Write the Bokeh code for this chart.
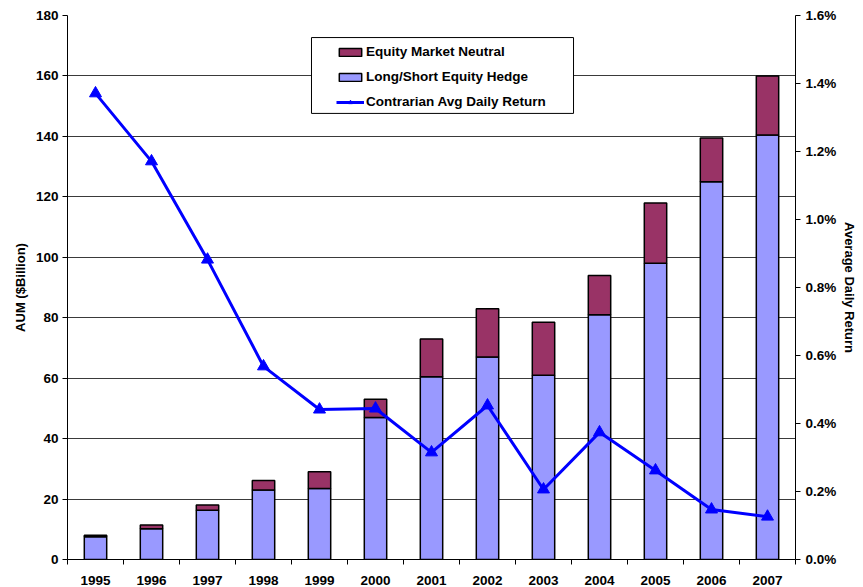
from bokeh.plotting import figure
from bokeh.models import (Range1d, LinearAxis, FixedTicker, NumeralTickFormatter,
                          Legend, LegendItem, BoxAnnotation)
from bokeh.embed import file_html
from bokeh.resources import INLINE

years = ["1995", "1996", "1997", "1998", "1999", "2000", "2001",
         "2002", "2003", "2004", "2005", "2006", "2007"]
long_short = [7.5, 10.2, 16.3, 23.0, 23.5, 47.0, 60.5, 67.0, 61.0, 81.0, 98.0, 125.0, 140.5]
market_neutral = [0.5, 1.2, 1.7, 3.1, 5.5, 6.0, 12.5, 16.0, 17.5, 13.0, 20.0, 14.5, 19.5]
avg_daily_return = [0.01371, 0.01171, 0.00882, 0.00568, 0.00441, 0.00444, 0.00315,
                    0.00453, 0.00206, 0.00374, 0.00262, 0.00147, 0.00126]
aum_ticks = [0, 20, 40, 60, 80, 100, 120, 140, 160, 180]
ret_ticks = [0.0, 0.002, 0.004, 0.006, 0.008, 0.010, 0.012, 0.014, 0.016]

FONT = "Liberation Sans"
TICK_SIZE = "13.5px"
LABEL_SIZE = "13px"
xs = list(range(len(years)))
totals = [a + b for a, b in zip(long_short, market_neutral)]

p = figure(width=863, height=587, output_backend="svg", toolbar_location=None,
           x_range=Range1d(-0.5, len(years) - 0.5), y_range=Range1d(0, 180),
           min_border_left=67, min_border_right=68, min_border_top=15, min_border_bottom=28)
p.extra_y_ranges = {"ret": Range1d(0, 0.016)}
p.outline_line_color = None
p.background_fill_color = "white"

# grid
p.xgrid.grid_line_color = None
p.ygrid.grid_line_color = "#3a3a3a"
p.ygrid.grid_line_width = 1
p.ygrid.ticker = FixedTicker(ticks=aum_ticks)

ls_r = p.vbar(x=xs, top=long_short, bottom=0, width=0.4, fill_color="#9999FF",
              line_color="black", line_width=1.5)
emn_r = p.vbar(x=xs, top=totals, bottom=long_short, width=0.4, fill_color="#993366",
               line_color="black", line_width=1.5)
ln = p.line(x=xs, y=avg_daily_return, y_range_name="ret", line_color="#0000FF", line_width=3)
mk = p.scatter(x=xs, y=avg_daily_return, y_range_name="ret", marker="triangle", size=12,
               fill_color="#0000FF", line_color="#0000FF")

# x axis
xa = p.xaxis[0]
xa.ticker = FixedTicker(ticks=xs, minor_ticks=[i - 0.5 for i in range(len(years) + 1)])
xa.major_label_overrides = {i: y for i, y in zip(xs, years)}
xa.major_tick_out = 0
xa.major_tick_in = 0
xa.minor_tick_out = 5
xa.minor_tick_in = 0
xa.minor_tick_line_color = "black"
xa.axis_line_color = "black"
xa.major_label_text_font = FONT
xa.major_label_text_font_style = "bold"
xa.major_label_text_font_size = TICK_SIZE
xa.major_label_text_color = "black"
xa.major_label_standoff = 11

# left axis
ya = p.yaxis[0]
ya.ticker = FixedTicker(ticks=aum_ticks)
ya.axis_label = "AUM ($Billion)"
ya.axis_label_text_font = FONT
ya.axis_label_text_font_style = "bold"
ya.axis_label_text_font_size = LABEL_SIZE
ya.axis_label_text_color = "black"
ya.axis_label_standoff = 5
ya.major_label_text_font = FONT
ya.major_label_text_font_style = "bold"
ya.major_label_text_font_size = TICK_SIZE
ya.major_label_text_color = "black"
ya.major_label_standoff = 4
ya.major_tick_out = 5
ya.major_tick_in = 0
ya.minor_tick_line_color = None
ya.axis_line_color = "black"
ya.major_tick_line_color = "black"

# right axis
ra = LinearAxis(y_range_name="ret", ticker=FixedTicker(ticks=ret_ticks),
                formatter=NumeralTickFormatter(format="0.0%"))
ra.axis_label = "Average Daily Return"
ra.axis_label_text_font = FONT
ra.axis_label_text_font_style = "bold"
ra.axis_label_text_font_size = LABEL_SIZE
ra.axis_label_text_color = "black"
ra.axis_label_standoff = 3
ra.major_label_text_font = FONT
ra.major_label_text_font_style = "bold"
ra.major_label_text_font_size = TICK_SIZE
ra.major_label_text_color = "black"
ra.major_label_standoff = 5
ra.major_tick_out = 5
ra.major_tick_in = 0
ra.minor_tick_line_color = None
ra.axis_line_color = "black"
ra.major_tick_line_color = "black"
p.add_layout(ra, "right")

# legend frame
box = BoxAnnotation(left=3.857, right=8.536, bottom=147.6, top=172.7,
                    fill_color="white", fill_alpha=1, line_color="black", line_width=1,
                    line_alpha=1)
p.add_layout(box)

legend = Legend(items=[
    LegendItem(label="Equity Market Neutral", renderers=[emn_r]),
    LegendItem(label="Long/Short Equity Hedge", renderers=[ls_r]),
    LegendItem(label="Contrarian Avg Daily Return", renderers=[ln, mk]),
], location=(269, 448))
legend.border_line_color = None
legend.background_fill_alpha = 0
legend.label_text_font = FONT
legend.label_text_font_style = "bold"
legend.label_text_font_size = TICK_SIZE
legend.label_text_color = "black"
legend.glyph_width = 28
legend.glyph_height = 10
legend.label_height = 19
legend.label_standoff = 2
legend.spacing = 6
legend.padding = 0
legend.margin = 0
p.add_layout(legend, "center")

open("out.html", "w").write(file_html(p, INLINE))
